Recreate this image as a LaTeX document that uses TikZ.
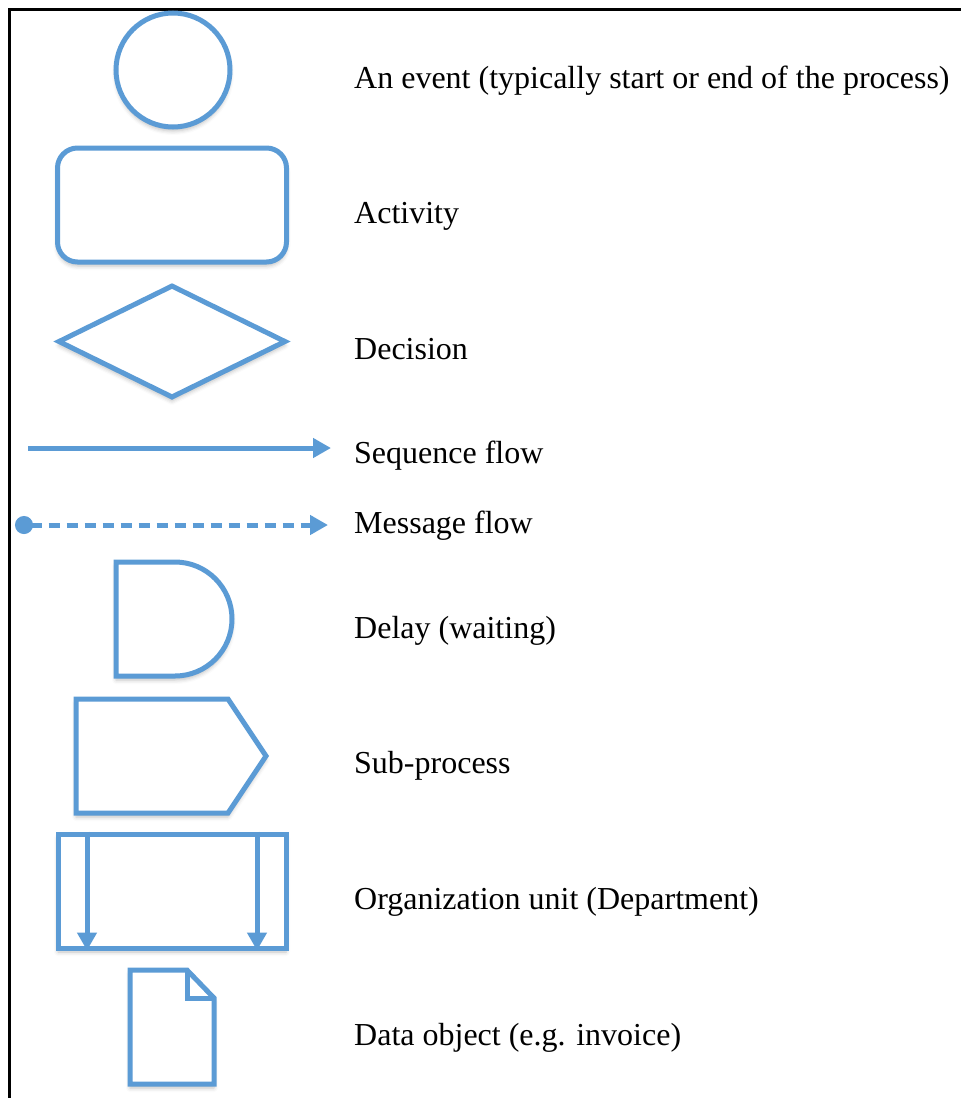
\documentclass[tikz,border=0pt]{standalone}
\usepackage{fontspec}
\setmainfont{Liberation Serif}
\usetikzlibrary{shapes.geometric,arrows.meta,shadows.blur}
\definecolor{bpmnblue}{HTML}{5B9BD5}
\tikzset{
  shape line/.style={draw=bpmnblue, line width=5pt, fill=white,
    blur shadow={shadow xshift=0pt, shadow yshift=-4pt, shadow blur radius=4pt, shadow opacity=25}},
  flow line/.style={draw=bpmnblue, line width=5pt},
  flow tip/.style={-{Triangle[length=18pt,width=19pt]}},
  legend text/.style={anchor=base west, inner sep=0pt, font=\fontsize{32}{38}\selectfont},
}
\begin{document}
\begin{tikzpicture}[x=1pt, y=-1pt]
\useasboundingbox (0,0) rectangle (961,1098);
% frame
\draw[line width=3pt] (9,1098) -- (9,9) -- (961,9);

% event
\node[shape line, circle, minimum size=114pt, inner sep=0pt] (event) at (173,70) {};
% activity
\node[shape line, rectangle, rounded corners=20pt, minimum width=229pt, minimum height=114pt] (activity) at (172,205) {};
% decision
\node[shape line, diamond, minimum width=228pt, minimum height=113pt, inner sep=0pt] (decision) at (172,341.5) {};

% sequence flow
\coordinate (seqA) at (28,448);
\coordinate (seqB) at (331,448);
\draw[flow line, flow tip] (seqA) -- (seqB);

% message flow
\coordinate (msgA) at (15,525);
\coordinate (msgB) at (328,525);
\draw[flow line, dash pattern=on 11pt off 7pt,
  {Circle[length=18pt,width=18pt]}-{Triangle[length=18pt,width=19pt]}] (msgA) -- (msgB);

% delay
\path[shape line] (116,562) -- (175,562) arc[start angle=90, end angle=-90, radius=57pt] -- (116,676) -- cycle;

% sub-process
\path[shape line] (76,699) -- (228,699) -- (266,756) -- (228,813) -- (76,813) -- cycle;

% organization unit with two lanes
\node[shape line, rectangle, minimum width=228pt, minimum height=114pt, inner sep=0pt] (org) at (172,891) {};
\draw[flow line, flow tip] (org.north west -| 87,0) -- (org.south west -| 87,0);
\draw[flow line, flow tip] (org.north west -| 257,0) -- (org.south west -| 257,0);

% data object
\path[shape line] (130,970) -- (187,970) -- (214,998) -- (214,1084) -- (130,1084) -- cycle;
\draw[flow line, line join=miter] (187,970) -- (187,998) -- (214,998);

% labels
\node[legend text] (tevent) at (354,88) {An event (typically start or end of the process)};
\node[legend text] (tactivity) at (354,223) {Activity};
\node[legend text] (tdecision) at (354,359) {Decision};
\node[legend text] (tseq) at (354,463) {Sequence flow};
\node[legend text] (tmsg) at (354,533) {Message flow};
\node[legend text] (tdelay) at (354,638) {Delay (waiting)};
\node[legend text] (tsub) at (354,773) {Sub-process};
\node[legend text] (torg) at (354,909) {Organization unit (Department)};
\node[legend text] (tdata) at (354,1045) {Data object (e.g. invoice)};
\end{tikzpicture}
\end{document}
